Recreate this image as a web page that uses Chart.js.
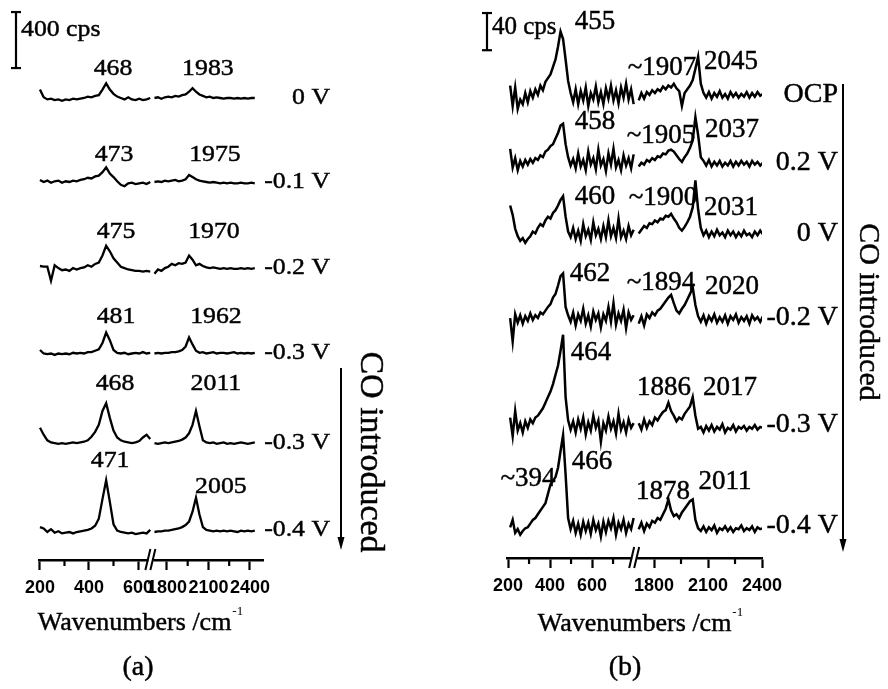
<!DOCTYPE html>
<html>
<head>
<meta charset="utf-8">
<title>SERS spectra (a) and (b)</title>
<script src="https://cdn.jsdelivr.net/npm/chart.js@4.4.1/dist/chart.umd.min.js"></script>
<style>
  html, body { margin: 0; padding: 0; background: #fff; }
  #figure { position: relative; width: 888px; height: 689px; }
  #figure canvas { position: absolute; top: 0; }
  #chartA { left: 0; }
  #chartB { left: 444px; }
</style>
</head>
<body>
<div id="figure">
  <canvas id="chartA" width="444" height="689"></canvas>
  <canvas id="chartB" width="444" height="689"></canvas>
</div>
<script>
// ---------- panel (a) data ----------
const potentialsA = ['0 V', '-0.1 V', '-0.2 V', '-0.3 V', '-0.3 V', '-0.4 V'];
const baselinesA = [3300, 2700, 2085, 1480, 835, 215];   // stacking offsets, cps
const wnLowA = [200,215,230,245,260,275,290,305,320,335,350,365,380,395,410,425,440,455,470,485,500,515,530,545,560,575,590,605,620,635,650];
const wnHighA = [1710,1735,1760,1785,1810,1835,1860,1885,1910,1935,1960,1985,2010,2035,2060,2085,2110,2135,2160,2185,2210,2235,2260,2285,2310,2335,2360,2385,2410,2435];
const lowA = [
  [60,5,-10,-5,-15,-10,-20,-10,-15,-5,-10,-5,0,10,5,15,20,60,105,60,30,10,0,-10,5,-10,-15,-5,-15,-10,0],
  [15,0,10,-5,5,10,-5,5,0,10,5,15,20,30,25,40,45,70,105,60,35,5,-20,-30,-10,-5,-15,-10,-5,-15,0],
  [15,10,10,-90,20,0,-15,-10,-20,0,-10,0,5,20,10,30,40,90,160,120,70,40,10,0,-10,-15,-20,-20,-25,-20,-25],
  [20,-5,-10,-5,-15,-5,-10,-5,-10,0,-5,0,-5,5,5,15,25,70,145,90,20,0,-5,0,-10,-5,0,-5,5,-5,0],
  [110,60,20,5,0,-5,0,-5,0,5,0,5,10,20,45,80,130,230,285,180,90,40,20,10,5,0,5,15,40,60,30],
  [20,10,-15,5,-20,-10,-25,-20,-15,-25,-15,-10,-5,0,10,30,80,220,355,200,40,-5,-15,-20,-25,-20,-30,-25,-20,-25,0]
];
const highA = [
  [0,5,-5,5,10,5,15,10,20,25,45,70,45,25,15,5,10,0,5,0,-5,0,0,-5,0,-5,0,-5,0,0],
  [0,5,0,10,5,10,15,5,10,20,50,35,20,10,5,0,-5,0,-5,-10,-5,-10,-5,-10,-10,-5,-10,-10,-5,-10],
  [-40,-10,-20,0,10,30,20,35,30,40,90,60,20,30,15,5,0,5,0,-5,0,-5,0,-5,-5,0,-5,0,-5,0],
  [-5,0,-5,0,0,5,5,10,20,45,110,60,15,0,5,-5,0,5,-5,0,0,-5,0,5,-5,0,-5,0,-5,0],
  [0,-5,0,5,0,5,10,15,25,40,70,130,230,120,20,5,0,5,-5,0,5,-5,0,-5,0,5,0,-5,0,5],
  [-15,-10,-10,-5,-5,0,5,10,20,35,60,130,230,110,20,0,-5,-10,-5,-10,-5,-10,-5,-10,-15,-5,-10,-5,-10,-5]
];
const peakTagsA = [
  ['468', 498, 3507], ['1983', 2096, 3507],
  ['473', 502, 2893], ['1975', 2147, 2893],
  ['475', 510, 2343], ['1970', 2140, 2343],
  ['481', 510, 1736], ['1962', 2154, 1736],
  ['468', 506, 1257], ['2011', 2154, 1257],
  ['471', 486, 707], ['2005', 2190, 521]
];
const tickValsA = [200, 400, 600, 1800, 2100, 2400];
const tickLabelsA = ['200', '400', '600', '1800', '2100', '2400'];
const minorTicksA = [300, 500, 1950, 2250];
const scaleBarA = 400;

// ---------- panel (b) data ----------
const potentialsB = ['OCP', '0.2 V', '0 V', '-0.2 V', '-0.3 V', '-0.4 V'];
const baselinesB = [498, 425, 349, 258, 143, 35];
const wnLowB = [210,222,234,246,258,270,282,294,306,318,330,342,354,366,378,390,402,414,426,438,450,462,474,486,498,510,522,534,546,558,570,582,594,606,618,630,642,654,666,678,690,702,714,726,738,750,762,774,786,798];
const wnHighB = [1715,1730,1745,1760,1775,1790,1805,1820,1835,1850,1865,1880,1895,1910,1925,1940,1955,1970,1985,2000,2015,2030,2045,2060,2075,2090,2105,2120,2135,2150,2165,2180,2195,2210,2225,2240,2255,2270,2285,2300,2315,2330,2345,2360,2375,2390,2405];
const lowB = [
  [10,-12,8,-15,-5,-10,2,-8,4,-3, 6,0,10,5,14,18,22,30,38,52, 68,60,38,15,2,-8,6,-10,4,-6, 8,-12,2,-5,9,-8,3,-10,7,-4, 10,-6,5,-9,8,-3,12,-5,6,-10],
  [15,-5,5,-8,2,-4,3,-2,4,0, 5,3,8,6,12,14,18,20,26,32, 40,42,20,6,-3,4,-6,10,-4,3, -8,12,-2,5,-7,14,-3,4,-9,10, -2,15,-5,3,-8,8,-3,5,-6,9],
  [30,20,5,-3,-8,-5,-10,-6,-3,2, 0,6,10,8,14,18,16,22,25,30, 36,40,18,2,-4,6,-6,3,-8,10, -3,4,-7,12,-2,5,-6,8,-4,14, -3,6,-5,16,-4,3,-6,8,-2,4],
  [0,-25,4,-5,3,-6,2,-3,5,-2, 3,0,6,4,8,12,15,22,26,35, 45,48,12,3,-4,6,-8,4,-3,10, -6,3,-9,7,-2,5,-10,4,-3,12, -4,16,-7,5,-3,9,-11,6,-2,3],
  [8,-12,15,-6,2,-8,4,-3,6,2, 8,10,14,18,24,30,36,44,54,64, 80,97,30,5,-5,4,-8,6,-4,8, -10,3,-6,10,-3,5,-18,2,-6,9, -4,4,-9,12,-5,3,-8,6,-3,2],
  [-2,6,-8,-4,-10,-6,-3,-2,2,6, 8,12,16,20,24,34,44,48,52,62, 80,97,55,8,-4,5,-8,2,-10,4, -6,3,-9,6,-5,2,-12,4,-7,5, -3,8,-10,3,-4,6,-8,2,-4,8]
];
const highB = [
  [-6,2,-4,3,0,5,2,6,4,9, 6,10,8,12,7,4,-12,2,6,10, 16,28,41,12,2,-3,3,-4,2,-2, 4,-3,1,-4,3,-2,2,-3,1,-2, 3,-3,2,-2,3,-1,1],
  [-4,0,-2,3,1,5,3,7,6,10, 9,13,14,12,8,4,1,6,10,16, 24,49,30,6,2,-3,3,-4,1,-3, 2,-4,0,-3,2,-4,1,-3,2,-2, 1,-4,2,-2,1,-3,0],
  [0,4,8,6,11,10,14,12,16,15, 19,18,21,16,12,6,3,7,12,18, 28,57,26,6,-2,3,-4,2,-3,4, -2,1,-4,3,-2,2,-4,1,-3,3, -2,0,-4,2,-2,3,-1],
  [-6,2,-8,4,0,6,3,8,10,14, 18,22,25,16,8,5,10,14,20,26, 33,14,2,-4,3,-6,2,-3,4,-5, 1,-4,3,-6,2,-2,4,-5,1,-3, 2,-6,3,-2,1,-4,2],
  [2,-5,6,-3,4,0,8,5,10,14, 16,24,15,10,4,8,6,12,16,20, 30,10,-4,-2,-8,-1,-6,0,-7,-2, -5,1,-8,-3,-5,0,-7,-2,-4,-1, -6,-2,-4,0,-5,-2,-3],
  [-4,3,-6,2,-2,5,3,8,6,12, 18,28,16,10,12,8,14,18,22,26, 28,6,-3,-6,-1,-7,-2,-5,0,-8, -3,-5,-1,-6,-2,-7,-3,-4,0,-6, -3,-5,-1,-7,-2,-4,-3]
];
const peakTagsB = [
  ['455', 614, 576], ['~1907', 1844, 527], ['2045', 2228, 533],
  ['458', 614, 469], ['~1905', 1839, 454], ['2037', 2233, 460],
  ['460', 614, 388], ['~1900', 1850, 387], ['2031', 2228, 376],
  ['462', 590, 305], ['~1894', 1839, 296], ['2020', 2233, 291],
  ['464', 595, 220], ['1886', 1856, 183], ['2017', 2222, 183],
  ['~394', 295, 85], ['466', 600, 103], ['1878', 1850, 71], ['2011', 2194, 82]
];
const tickValsB = [200, 400, 600, 1800, 2100, 2400];
const tickLabelsB = ['200', '400', '600', '1800', '2100', '2400'];
const minorTicksB = [300, 500, 700, 1950, 2250];
const scaleBarB = 40;

// ---------- drawing ----------
const serif = '"Liberation Serif", "Times New Roman", serif';

// filled + thin stroke, to get the heavy look of the scanned lettering
function write(ctx, s, x, y, size, align, sx) {
  ctx.save();
  ctx.font = size + 'px ' + serif;
  ctx.textAlign = align;
  ctx.textBaseline = 'middle';
  ctx.translate(x, y);
  ctx.scale(sx, 1);
  ctx.lineWidth = 0.45;
  ctx.fillText(s, 0, 0);
  ctx.strokeText(s, 0, 0);
  ctx.restore();
}

function seg(ctx, x1, y1, x2, y2) {
  ctx.beginPath();
  ctx.moveTo(x1, y1);
  ctx.lineTo(x2, y2);
  ctx.stroke();
}

// broken axis: high wavenumbers are squeezed and joined after the low part
function makeBreak(lowMax, join, ratio) {
  return w => (w <= lowMax ? w : join + (w - 1800) * ratio);
}

function buildDatasets(p) {
  return p.low.map((low, k) => {
    const pts = p.wnLow.map((w, i) => ({x: p.brk(w), y: p.base[k] + low[i]}));
    pts.push({x: (p.brk(p.wnLow[p.wnLow.length - 1]) + p.brk(p.wnHigh[0])) / 2, y: null});
    p.wnHigh.forEach((w, i) => pts.push({x: p.brk(w), y: p.base[k] + p.high[k][i]}));
    return {
      label: p.volts[k],
      data: pts,
      borderColor: '#000',
      borderWidth: p.lineWidth,
      pointRadius: 0,
      tension: 0,
      spanGaps: false
    };
  });
}

function extrasPlugin(p) {
  return {
    id: 'panelExtras',
    afterDraw(chart) {
      const ctx = chart.ctx, a = chart.chartArea;
      const xs = chart.scales.x, ys = chart.scales.y;
      const px = w => xs.getPixelForValue(p.brk(w));
      const py = v => ys.getPixelForValue(v);
      ctx.save();
      ctx.strokeStyle = '#000';
      ctx.fillStyle = '#000';

      // minor ticks
      ctx.lineWidth = 2.2;
      p.minor.forEach(w => seg(ctx, px(w), a.bottom, px(w), a.bottom + 6));

      // axis break "//"
      const bx = (px(p.wnLow[p.wnLow.length - 1]) + px(p.wnHigh[0])) / 2;
      ctx.fillStyle = '#fff';
      ctx.fillRect(bx - 4, a.bottom - 3, 5, 6);
      ctx.fillStyle = '#000';
      ctx.lineWidth = 2;
      seg(ctx, bx - 7, a.bottom + 10, bx - 2, a.bottom - 11);
      seg(ctx, bx - 2, a.bottom + 10, bx + 3, a.bottom - 11);

      // intensity scale bar
      ctx.lineWidth = 2.2;
      const top = py(p.bar.base + p.bar.value), bot = py(p.bar.base);
      seg(ctx, p.bar.x, top, p.bar.x, bot);
      seg(ctx, p.bar.x - 5, top, p.bar.x + 5, top);
      seg(ctx, p.bar.x - 5, bot, p.bar.x + 5, bot);
      write(ctx, p.bar.value + ' cps', p.bar.x + 5, p.bar.textY, p.bar.size, 'left', p.sx);

      // peak positions
      p.tags.forEach(([s, w, v]) => write(ctx, s, px(w), py(v), p.tagSize, 'center', p.sx));

      // potentials
      p.volts.forEach((s, k) => write(ctx, s, p.voltRight, py(p.base[k]), p.voltSize, 'right', p.sx));

      // CO introduced arrow
      const ar = p.arrow;
      ctx.lineWidth = 2;
      seg(ctx, ar.x, ar.y1, ar.x, ar.y2 - 8);
      ctx.beginPath();
      ctx.moveTo(ar.x - 3.5, ar.y2 - 13);
      ctx.lineTo(ar.x + 3.5, ar.y2 - 13);
      ctx.lineTo(ar.x, ar.y2);
      ctx.closePath();
      ctx.fill();
      ctx.save();
      ctx.translate(ar.textX, ar.textY);
      ctx.rotate(Math.PI / 2);
      ctx.font = ar.size + 'px ' + serif;
      ctx.textAlign = 'center';
      ctx.textBaseline = 'middle';
      ctx.lineWidth = 0.45;
      ctx.fillText('CO introduced', 0, 0);
      ctx.strokeText('CO introduced', 0, 0);
      ctx.restore();

      // axis title with superscript, and panel tag
      ctx.font = '26px ' + serif;
      const main = 'Wavenumbers /cm';
      const w1 = ctx.measureText(main).width;
      ctx.font = '13px ' + serif;
      const w2 = ctx.measureText('-1').width;
      const x0 = p.title.x - (w1 + w2) / 2;
      write(ctx, main, x0, p.title.y, 26, 'left', 1);
      ctx.textAlign = 'left';
      ctx.textBaseline = 'middle';
      ctx.font = '13px ' + serif;
      ctx.fillText('-1', x0 + w1 + 1, p.title.y - 11);
      write(ctx, p.tag.text, p.tag.x, p.tag.y, 28, 'center', 1);

      ctx.restore();
    }
  };
}

function makeChart(id, p) {
  return new Chart(document.getElementById(id), {
    type: 'line',
    data: {datasets: buildDatasets(p)},
    options: {
      responsive: false,
      animation: false,
      events: [],
      layout: {padding: p.pad},
      plugins: {legend: {display: false}, tooltip: {enabled: false}},
      scales: {
        x: {
          type: 'linear',
          min: p.xMin,
          max: p.xMax,
          grid: {display: true, drawOnChartArea: false, drawTicks: true, tickLength: 10, tickWidth: 2.2, tickColor: '#000'},
          border: {display: true, color: '#000', width: 2.5},
          ticks: {
            autoSkip: false,
            maxRotation: 0,
            minRotation: 0,
            padding: 7,
            color: '#000',
            font: {family: '"Liberation Sans", Arial, sans-serif', size: 18, weight: 'bold'},
            callback: (v, i) => p.tickLabels[i]
          },
          afterBuildTicks: s => { s.ticks = p.tickVals.map(w => ({value: p.brk(w)})); },
          afterFit: s => { s.height = 40; }
        },
        y: {display: false, min: 0, max: p.yMax}
      }
    },
    plugins: [extrasPlugin(p)]
  });
}

makeChart('chartA', {
  volts: potentialsA, base: baselinesA, wnLow: wnLowA, wnHigh: wnHighA, low: lowA, high: highA,
  tags: peakTagsA, tickVals: tickValsA, tickLabels: tickLabelsA, minor: minorTicksA,
  brk: makeBreak(700, 718, 0.5645),
  xMin: 196, xMax: 1110, yMax: 4000,
  pad: {left: 39, right: 181, top: 0, bottom: 89},
  lineWidth: 2.3, sx: 1.12, tagSize: 23, voltSize: 23, voltRight: 330,
  bar: {value: scaleBarA, base: 3514, x: 16, textY: 30, size: 23},
  arrow: {x: 341, y1: 368, y2: 550, textX: 370, textY: 452, size: 34},
  title: {x: 140, y: 623},
  tag: {text: '(a)', x: 138, y: 668}
});

makeChart('chartB', {
  volts: potentialsB, base: baselinesB, wnLow: wnLowB, wnHigh: wnHighB, low: lowB, high: highB,
  tags: peakTagsB, tickVals: tickValsB, tickLabels: tickLabelsB, minor: minorTicksB,
  brk: makeBreak(800, 895, 0.857),
  xMin: 195, xMax: 1409.2, yMax: 600,
  pad: {left: 63, right: 126, top: 0, bottom: 91},
  lineWidth: 2.5, sx: 1, tagSize: 27, voltSize: 28, voltRight: 394,
  bar: {value: scaleBarB, base: 546, x: 43, textY: 27, size: 25},
  arrow: {x: 399, y1: 84, y2: 552, textX: 424, textY: 312, size: 30},
  title: {x: 196, y: 624},
  tag: {text: '(b)', x: 181, y: 668}
});
</script>
</body>
</html>
